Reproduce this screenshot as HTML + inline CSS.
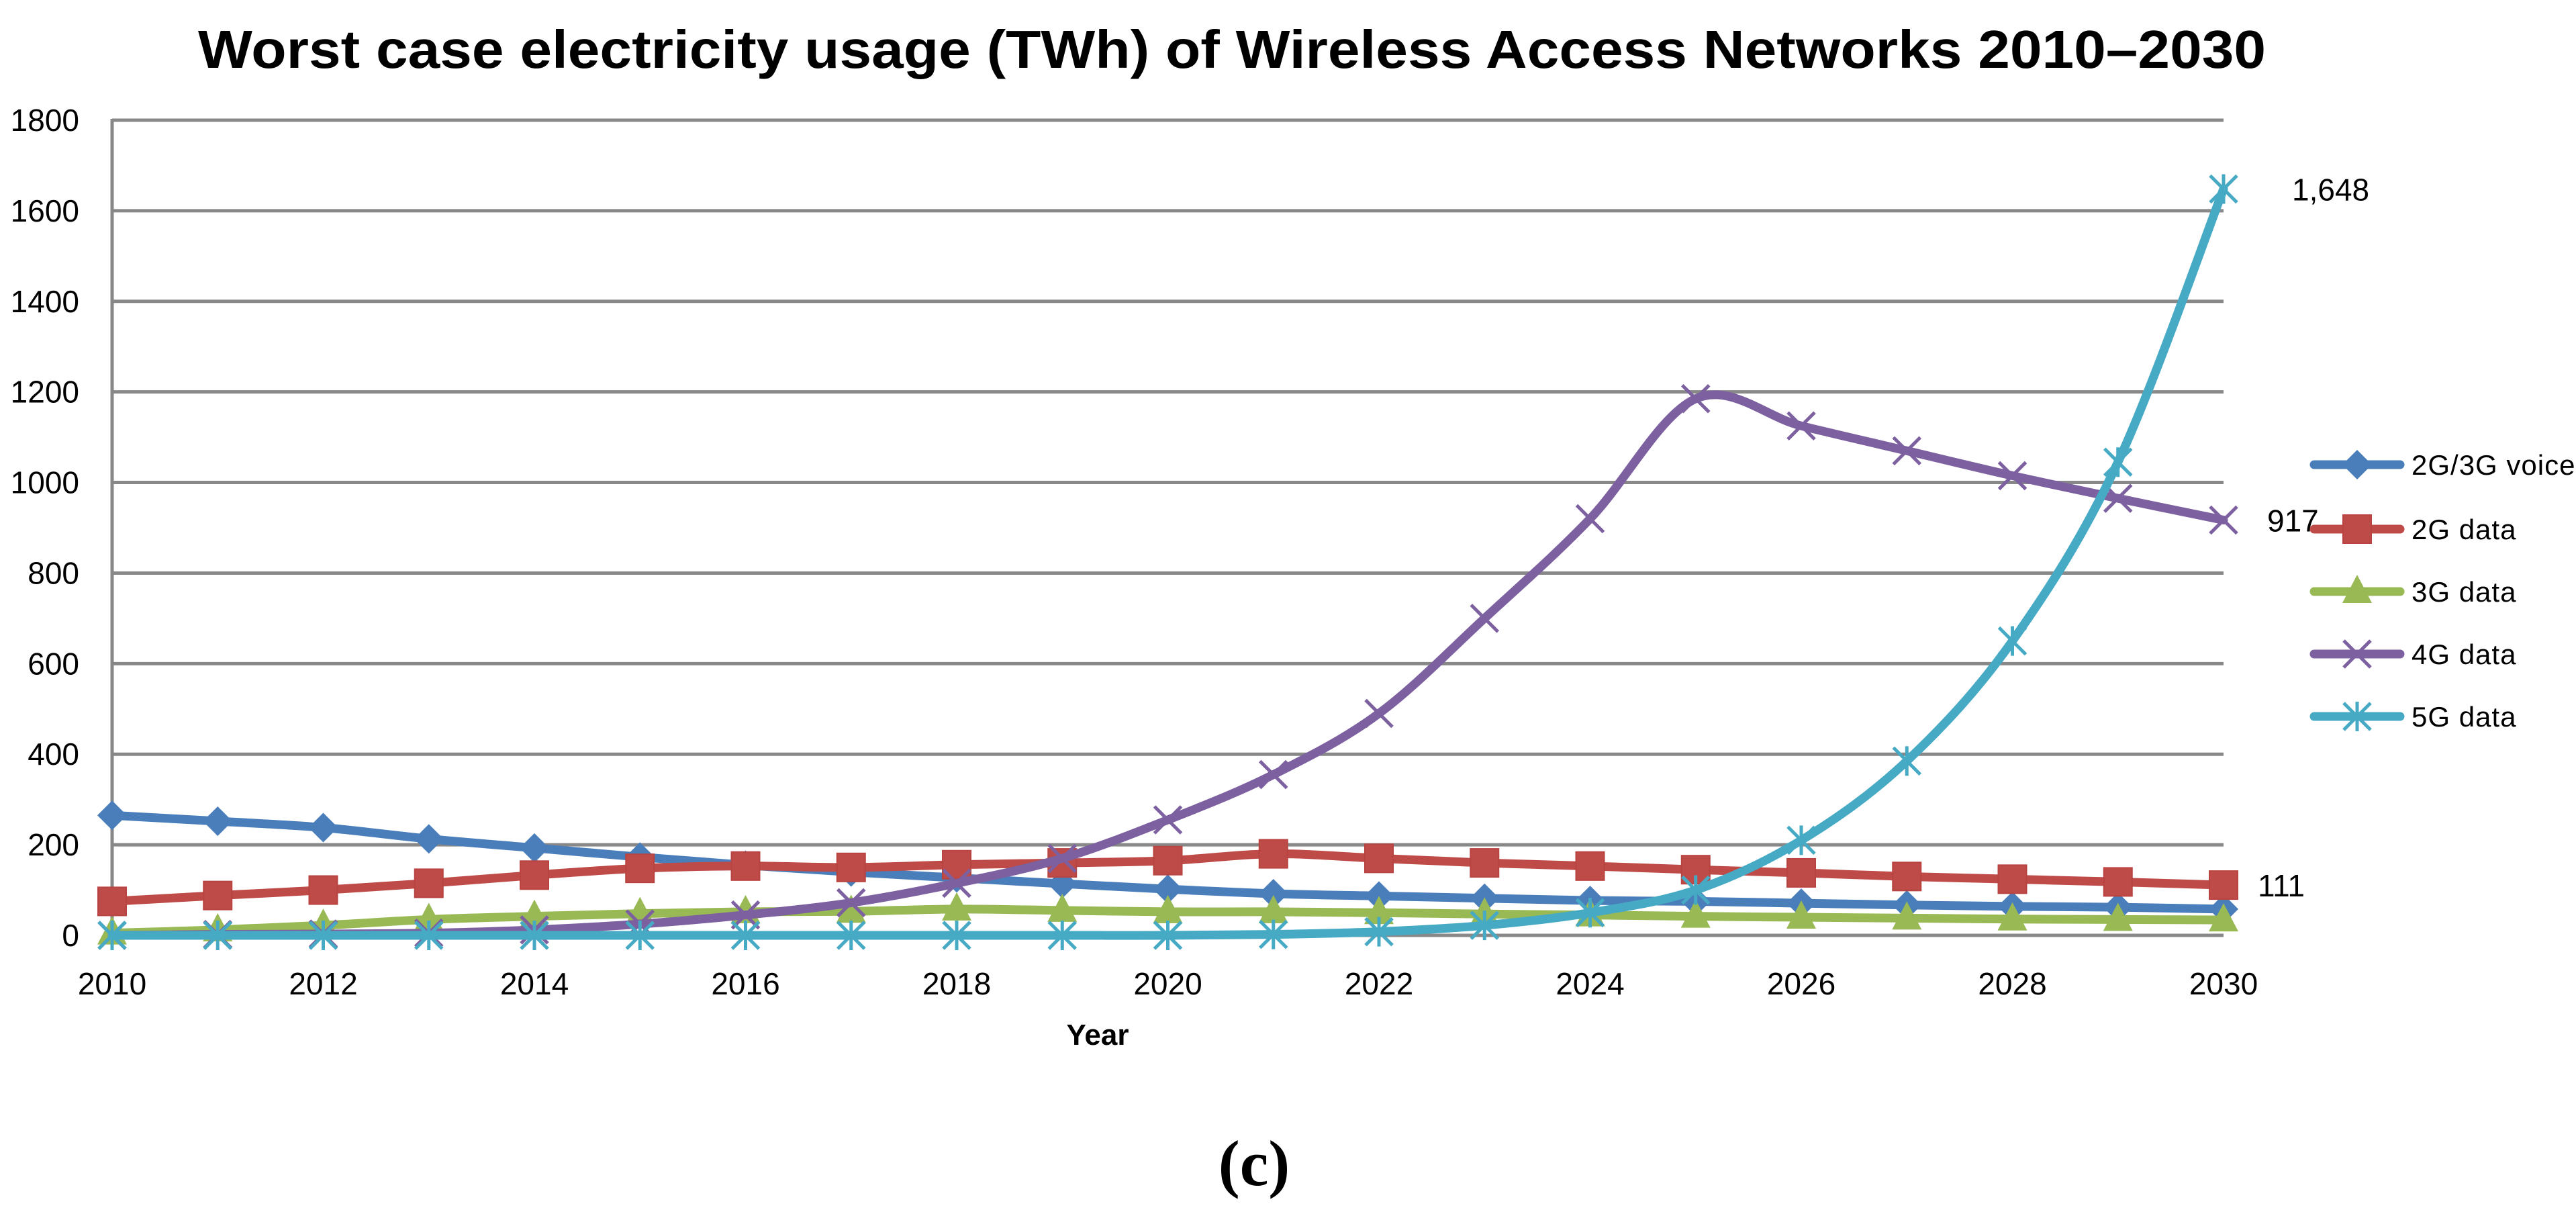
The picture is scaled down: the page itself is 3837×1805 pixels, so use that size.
<!DOCTYPE html>
<html><head><meta charset="utf-8"><style>
html,body{margin:0;padding:0;background:#fff}
svg{display:block}
text{font-family:"Liberation Sans",sans-serif}
</style></head><body>
<svg id="chart" width="3837" height="1805" viewBox="0 0 3837 1805" xmlns="http://www.w3.org/2000/svg">
<text x="1835" y="101" text-anchor="middle" font-size="80" font-weight="bold" textLength="3080" lengthAdjust="spacingAndGlyphs">Worst case electricity usage (TWh) of Wireless Access Networks 2010–2030</text>
<g id="grid"></g>
<g id="yticks"></g>
<g id="xticks"></g>
<g id="series"></g>
<g id="legend"></g>
<text x="1635" y="1556" text-anchor="middle" font-size="44" font-weight="bold">Year</text>
<text x="1868" y="1765" text-anchor="middle" font-size="96" font-weight="bold" style="font-family:'Liberation Serif',serif">(c)</text>
</svg>
<script>
const years = [2010,2011,2012,2013,2014,2015,2016,2017,2018,2019,2020,2021,2022,2023,2024,2025,2026,2027,2028,2029,2030];
const yTicks = [0,200,400,600,800,1000,1200,1400,1600,1800];
const xTickLabels = [2010,2012,2014,2016,2018,2020,2022,2024,2026,2028,2030];
const voice2g3g = [265,252,238,213,193,173,155,140,127,114,102,92,87,82,77,75,71,67,64,62,58];
const data2g = [75,88,100,115,133,148,153,150,156,160,165,180,170,160,153,145,138,130,124,118,111];
const data3g = [5,12,22,35,42,48,52,53,58,55,52,52,50,47,45,42,40,38,36,35,34];
const data4g = [0,2,3,5,12,25,45,72,115,170,255,355,490,700,920,1185,1125,1070,1015,965,917];
const data5g = [0,0,0,0,0,0,0,0,0,0,0,2,8,22,50,100,210,385,650,1045,1648];
const seriesNames = ["2G/3G voice","2G data","3G data","4G data","5G data"];
const endLabels = ["1,648","917","111"];

const NS="http://www.w3.org/2000/svg";
const X0=167,X1=3312,Y0=1393,Y1=179;
const xs=y=>X0+(y-years[0])/(years[years.length-1]-years[0])*(X1-X0);
const ys=v=>Y0-v/1800*(Y0-Y1);
function mk(tag,attrs,parent){const e=document.createElementNS(NS,tag);for(const k in attrs)e.setAttribute(k,attrs[k]);parent.appendChild(e);return e;}
const grid=document.getElementById('grid'),yt=document.getElementById('yticks'),xt=document.getElementById('xticks'),ser=document.getElementById('series'),leg=document.getElementById('legend');
yTicks.forEach(t=>{
  const l=mk('line',{x1:X0,x2:X1,y1:ys(t),y2:ys(t),stroke:'#888',"stroke-width":5},grid);
  
  
  const tx=mk('text',{x:118,y:ys(t)+16,"text-anchor":"end","font-size":46},yt);
  tx.textContent=t;
  
  
});
const ax=mk('line',{x1:X0,x2:X0,y1:Y1-2,y2:Y0+2,stroke:'#888',"stroke-width":5},grid);


xTickLabels.forEach(t=>{
  const tx=mk('text',{x:xs(t),y:1481,"text-anchor":"middle","font-size":46},xt);
  tx.textContent=t;
  
  
});
function smooth(pts){
  let d='M'+pts[0][0]+','+pts[0][1];
  for(let i=0;i<pts.length-1;i++){
    const p0=pts[i-1]||pts[i],p1=pts[i],p2=pts[i+1],p3=pts[i+2]||p2;
    const t=1/6;
    d+=' C'+(p1[0]+(p2[0]-p0[0])*t)+','+(p1[1]+(p2[1]-p0[1])*t)+' '+(p2[0]-(p3[0]-p1[0])*t)+','+(p2[1]-(p3[1]-p1[1])*t)+' '+p2[0]+','+p2[1];
  }
  return d;
}
function marker(type,x,y,c,g){
  let e;
  if(type==='diamond')e=mk('polygon',{points:`${x},${y-22} ${x+22},${y} ${x},${y+22} ${x-22},${y}`,fill:c},g);
  else if(type==='square')e=mk('rect',{x:x-21,y:y-21,width:42,height:42,fill:c,stroke:'#b84340',"stroke-width":2},g);
  else if(type==='tri')e=mk('polygon',{points:`${x},${y-25} ${x+22},${y+17} ${x-22},${y+17}`,fill:c},g);
  else if(type==='x'){e=mk('path',{d:`M${x-20},${y-20}L${x+20},${y+20}M${x-20},${y+20}L${x+20},${y-20}`,stroke:c,"stroke-width":5,fill:'none'},g);}
  else {e=mk('path',{d:`M${x-20},${y-20}L${x+20},${y+20}M${x-20},${y+20}L${x+20},${y-20}M${x},${y-22}L${x},${y+22}`,stroke:c,"stroke-width":5,fill:'none'},g);}
  return e;
}
const allData=[voice2g3g,data2g,data3g,data4g,data5g];
const colors=['#4A7EBB','#BE4B48','#98B954','#7D60A0','#46AAC5'];
const markers=['diamond','square','tri','x','star'];
allData.forEach((arr,si)=>{
  const g=mk('g',{},ser);
  
  
  const pts=arr.map((v,i)=>[xs(years[i]),ys(v)]);
  const p=mk('path',{d:smooth(pts),fill:'none',stroke:colors[si],"stroke-width":13,"stroke-linecap":"round","stroke-linejoin":"round"},g);
  
  
  pts.forEach((pt,i)=>{
    const m=marker(markers[si],pt[0],pt[1],colors[si],g);
    
    
  });
});
const lbls=[[data5g,3414],[data4g,3377],[data2g,3363]];
lbls.forEach((l,i)=>{
  const v=l[0][l[0].length-1];
  const tx=mk('text',{x:l[1],y:ys(v)+17,"font-size":46},leg);
  tx.textContent=endLabels[i];
  
  
});
const legY=[692,788,881,974,1067];
seriesNames.forEach((n,i)=>{
  const g=mk('g',{},leg);
  
  
  mk('line',{x1:3447,x2:3575,y1:legY[i],y2:legY[i],stroke:colors[i],"stroke-width":13,"stroke-linecap":"round"},g);
  marker(markers[i],3511,legY[i],colors[i],g);
  const tx=mk('text',{x:3592,y:legY[i]+15,"font-size":42,"letter-spacing":"1"},g);
  tx.textContent=n;
});
</script>
</body></html>
